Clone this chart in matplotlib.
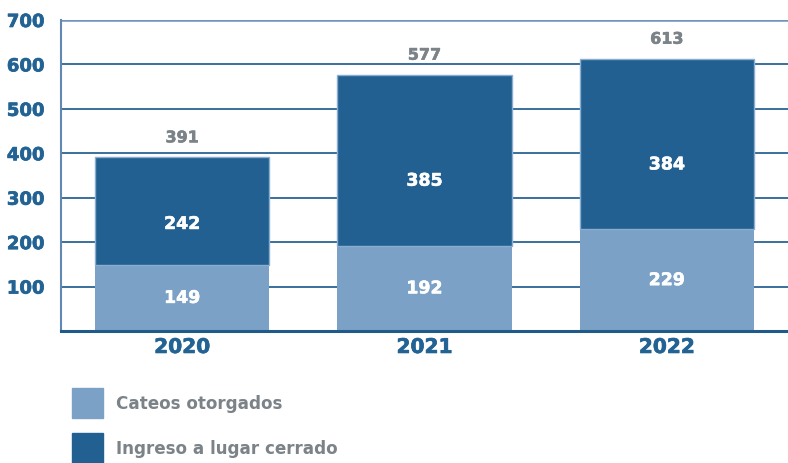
import matplotlib
matplotlib.use("Agg")
import matplotlib.pyplot as plt
from matplotlib.patches import Rectangle
import matplotlib.patheffects as pe

years = ["2020", "2021", "2022"]
cateos = [149, 192, 229]
ingreso = [242, 385, 384]
totals = [391, 577, 613]
yticks = [100, 200, 300, 400, 500, 600, 700]
series_names = ["Cateos otorgados", "Ingreso a lugar cerrado"]

light = "#7ba1c6"
dark = "#216090"
grid_c = "#2a6496"
tick_c = "#236394"
grey = "#7b8388"

plt.rcParams["font.family"] = ["DejaVu Sans"]


def heavy(color, w=0.4):
    return [pe.Stroke(linewidth=w, foreground=color), pe.Normal()]


fig = plt.figure(figsize=(7.88, 4.63), dpi=100)
ax = fig.add_axes([61 / 788, 132 / 463, 1 - 61 / 788, 311 / 463])

x = list(range(len(years)))
w = 0.72

# horizontal guide lines behind the bars
for v in yticks[:-1]:
    ax.axhline(v, color=grid_c, lw=1.3, zorder=0)
ax.axhline(700, color="#6f95bb", lw=1.8, zorder=0)

ax.bar(x, cateos, width=w, color=light, zorder=2, linewidth=0)
ax.bar(x, ingreso, width=w, bottom=cateos, color=dark, zorder=2,
       edgecolor="#8aadd0", linewidth=1.0)

for i in x:
    ax.text(i, cateos[i] / 2, str(cateos[i]), ha="center", va="center",
            color="white", fontsize=12.5, fontweight="bold", zorder=3,
            path_effects=heavy("white"))
    ax.text(i, cateos[i] + ingreso[i] * 0.38, str(ingreso[i]), ha="center",
            va="center", color="white", fontsize=12.5, fontweight="bold", zorder=3,
            path_effects=heavy("white"))
    ax.annotate(str(totals[i]), (i, totals[i]), xytext=(0, 14),
                textcoords="offset points", ha="center", va="center",
                color=grey, fontsize=11.5, fontweight="bold",
                path_effects=heavy(grey))

ax.set_xlim(-0.5, 2.5)
ax.set_ylim(0, 700)
ax.set_yticks(yticks)
ax.set_yticklabels([str(v) for v in yticks])
ax.set_xticks(x)
ax.set_xticklabels(years)
ax.tick_params(axis="y", length=0, pad=12, labelcolor=tick_c, labelsize=13)
ax.tick_params(axis="x", length=0, pad=5, labelcolor=tick_c, labelsize=14.5)
for lab in ax.get_yticklabels() + ax.get_xticklabels():
    lab.set_fontweight("bold")
    lab.set_path_effects(heavy(tick_c, 0.5))

for s in ["top", "right"]:
    ax.spines[s].set_visible(False)
ax.spines["left"].set_color("#5f88b3")
ax.spines["left"].set_linewidth(1.5)
ax.spines["bottom"].set_color("#1f5a8a")
ax.spines["bottom"].set_linewidth(2.2)

# legend drawn as figure-level swatches
for k, (name, col) in enumerate(zip(series_names, [light, dark])):
    top = 388 + k * 45
    fig.patches.append(Rectangle((72 / 788, 1 - (top + 30) / 463), 31 / 788, 30 / 463,
                                 transform=fig.transFigure, color=col))
    fig.text(116 / 788, 1 - (top + 16) / 463, name, ha="left", va="center",
             color=grey, fontsize=12.1, fontweight="bold")

fig.savefig("out.png", dpi=100)
